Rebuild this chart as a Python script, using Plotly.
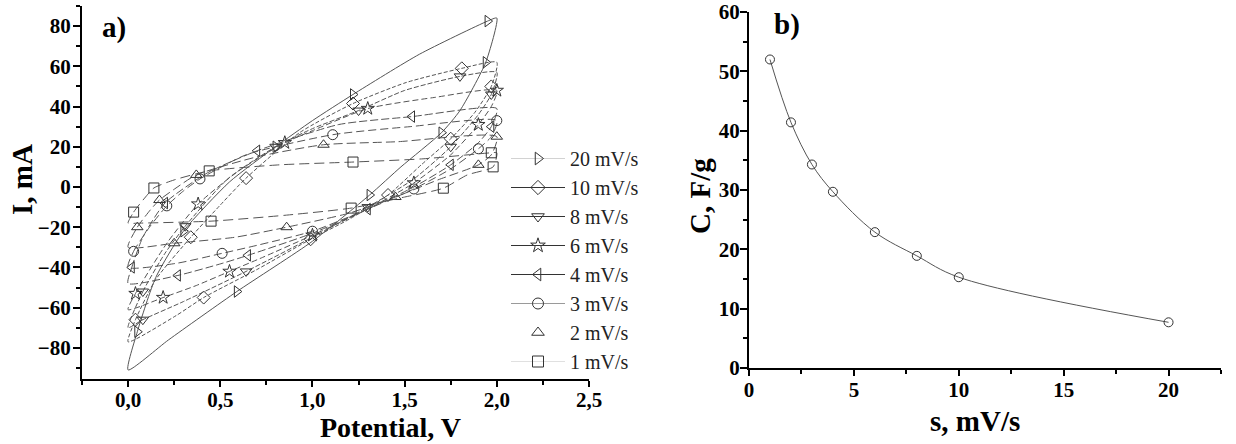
import plotly.graph_objects as go

# ---------------- data: panel a) cyclic voltammograms (V, mA) ----------------
labels = ["20 mV/s", "10 mV/s", "8 mV/s", "6 mV/s", "4 mV/s", "3 mV/s", "2 mV/s", "1 mV/s"]

V20 = [0.00, 0.05, 0.15, 0.30, 0.55, 0.80, 1.00, 1.22, 1.58, 1.95, 2.00, 1.94, 1.80, 1.70, 1.48, 1.31, 1.00, 0.59, 0.22, 0.00]
I20 = [-91, -72, -45, -22, 2.5, 20, 33, 46, 66, 82.5, 84, 62, 38, 27, 10, -4, -27, -52, -76, -91]

V10 = [0.00, 0.04, 0.15, 0.34, 0.50, 0.64, 0.93, 1.22, 1.51, 1.81, 2.00, 1.97, 1.88, 1.75, 1.59, 1.41, 1.20, 0.99, 0.70, 0.41, 0.26, 0.00]
I10 = [-77, -66, -46, -25, -9, 4.4, 27, 41.5, 52, 59, 62, 50, 37, 24, 11, -4, -16, -26, -41, -55, -64, -77]

V8 = [0.00, 0.08, 0.20, 0.31, 0.54, 0.80, 1.00, 1.25, 1.50, 1.80, 2.00, 1.97, 1.90, 1.75, 1.55, 1.30, 1.00, 0.64, 0.30, 0.08, 0.00]
I8 = [-70, -52, -33, -19.5, 4, 20, 29, 38, 48, 55, 57, 46, 36, 20, 4, -10, -25, -42, -57, -66, -70]

V6 = [0.00, 0.04, 0.21, 0.38, 0.60, 0.85, 1.00, 1.30, 1.66, 2.00, 1.97, 1.90, 1.75, 1.55, 1.30, 1.00, 0.73, 0.55, 0.37, 0.19, 0.00]
I6 = [-61, -53, -28, -8.5, 8, 22, 28, 39, 44.5, 48, 40, 31, 16, 2, -11, -24, -35, -42, -49, -55, -61]

V4 = [0.00, 0.02, 0.08, 0.20, 0.43, 0.70, 1.14, 1.54, 2.00, 1.97, 1.90, 1.75, 1.55, 1.30, 1.00, 0.65, 0.51, 0.27, 0.00]
I4 = [-48, -40, -25, -8, 7, 18, 31, 35, 39, 30, 22, 11, 0, -11, -23, -34, -38, -44, -48]

V3 = [0.00, 0.03, 0.12, 0.21, 0.30, 0.39, 0.64, 1.11, 1.53, 2.00, 1.97, 1.90, 1.75, 1.55, 1.30, 1.00, 0.70, 0.51, 0.26, 0.00]
I3 = [-40, -32, -19.5, -9.4, -2, 4, 16, 26, 30, 33, 25, 19, 9, -1, -11, -22, -29, -33, -38, -40]

V2 = [0.00, 0.05, 0.12, 0.17, 0.26, 0.37, 0.70, 1.06, 1.46, 2.00, 1.97, 1.90, 1.68, 1.45, 1.20, 0.86, 0.58, 0.25, 0.00]
I2 = [-30, -20, -11.5, -6.5, -0.5, 6, 15, 21, 22.5, 25, 16, 11, 3.5, -5, -13, -20, -25, -28, -30]

V1 = [0.00, 0.03, 0.09, 0.14, 0.25, 0.44, 0.82, 1.22, 1.60, 1.97, 2.00, 1.98, 1.84, 1.71, 1.50, 1.21, 0.86, 0.45, 0.05, 0.00]
I1 = [-18, -12.5, -5.5, -0.5, 3.5, 8, 11, 12.4, 14, 17, 17, 10, 6, -0.6, -5, -10.5, -14, -17, -18, -18]

# ---------------- data: panel b) specific capacitance ----------------
scan_rate = [1, 2, 3, 4, 6, 8, 10, 20]
capacitance = [52.0, 41.4, 34.3, 29.7, 22.9, 18.9, 15.3, 7.7]

# ---------------- figure ----------------
FONT = "Liberation Serif"
W, H = 1236, 444

curves = [(V20, I20), (V10, I10), (V8, I8), (V6, I6), (V4, I4), (V3, I3), (V2, I2), (V1, I1)]
symbols = ["triangle-right-open", "diamond-open", "triangle-down-open", "star-open",
           "triangle-left-open", "circle-open", "triangle-up-open", "square-open"]
dashes = ["solid", "4px,2px", "5px,2px", "6px,3px", "8px,3px", "8px,4px", "9px,4px", "10px,5px"]
legend_line = ["#d2d2d2", "#333333", "#333333", "#333333", "#333333", "#9a9a9a", None, "#e0e0e0"]

fig = go.Figure()
for (V, I), name, sym, dash, lcol in zip(curves, labels, symbols, dashes, legend_line):
    fig.add_trace(go.Scatter(
        x=V, y=I, mode="lines", showlegend=False, hoverinfo="skip",
        line=dict(color="#555555", width=1, dash=dash, shape="spline", smoothing=0.6),
        xaxis="x", yaxis="y"))
    idx = list(range(1, len(V) - 1, 2))
    fig.add_trace(go.Scatter(
        x=[V[i] for i in idx], y=[I[i] for i in idx], mode="markers", showlegend=False,
        marker=dict(symbol=sym, size=10, color="#333333", line=dict(width=1)),
        xaxis="x", yaxis="y"))
    fig.add_trace(go.Scatter(
        x=[None], y=[None], name=name,
        mode="markers" if lcol is None else "lines+markers",
        line=dict(color=lcol if lcol else "#ffffff", width=1),
        marker=dict(symbol=sym, size=11, color="#333333", line=dict(width=1)),
        xaxis="x", yaxis="y"))

fig.add_trace(go.Scatter(
    x=scan_rate, y=capacitance, mode="lines+markers", showlegend=False,
    line=dict(color="#555555", width=1, shape="spline", smoothing=1.0),
    marker=dict(symbol="circle-open", size=9, color="#333333", line=dict(width=1)),
    xaxis="x2", yaxis="y2"))

tickfont = dict(family=FONT, size=21, color="black", weight=700)
common = dict(showline=True, linecolor="black", linewidth=2, ticks="outside",
              tickwidth=1.5, tickcolor="black", showgrid=False, zeroline=False,
              tickfont=tickfont, automargin=False)

def px(x):
    return x / W

def py(y):
    return (H - y) / H

fig.update_layout(
    width=W, height=H, autosize=False, margin=dict(l=0, r=0, t=0, b=0, pad=0, autoexpand=False),
    paper_bgcolor="white", plot_bgcolor="white", separators=", ",
    font=dict(family=FONT, color="black"),
    xaxis=dict(domain=[px(82), px(589)], range=[-0.25, 2.5], anchor="y", tick0=0, dtick=0.5,
               tickformat=".1f", ticklen=6, ticklabelstandoff=-5,
               minor=dict(ticks="outside", ticklen=4, dtick=0.25, tickwidth=1.5, tickcolor="black"),
               **common),
    yaxis=dict(domain=[py(379), py(6)], range=[-95.5, 90], anchor="x", tick0=0, dtick=20, ticklen=7,
               ticklabelstandoff=-2,
               minor=dict(ticks="outside", ticklen=4, dtick=10, tickwidth=1.5, tickcolor="black"),
               **common),
    xaxis2=dict(domain=[px(749), px(1221)], range=[0, 22.5], anchor="y2", tick0=0, dtick=5, ticklen=6,
                ticklabelstandoff=-4,
                minor=dict(ticks="outside", ticklen=4, dtick=2.5, tickwidth=1.5, tickcolor="black"),
                **common),
    yaxis2=dict(domain=[py(368), py(12)], range=[0, 60], anchor="x2", tick0=0, dtick=10, ticklen=7,
                ticklabelstandoff=-4,
                minor=dict(ticks="outside", ticklen=4, dtick=5, tickwidth=1.5, tickcolor="black"),
                **common),
    legend=dict(x=px(506), y=py(139), xanchor="left", yanchor="top",
                bgcolor="rgba(0,0,0,0)", borderwidth=0, itemwidth=54,
                font=dict(family=FONT, size=20, color="#222222"), tracegroupgap=0),
    showlegend=True,
)

title_font = dict(family=FONT, size=29, color="black", weight=700)
annos = [
    ("a)", 114, 27, 0, 29), ("b)", 787, 25, 0, 29),
    ("I, mA", 22, 180, -90, 29), ("C, F/g", 700, 196, -90, 29),
    ("Potential, V", 390, 427, 0, 28), ("s, mV/s", 975, 421, 0, 29),
]
for text, x, y, ang, fs in annos:
    fig.add_annotation(text=text, x=px(x), y=py(y), xref="paper", yref="paper",
                       xanchor="center", yanchor="middle", showarrow=False,
                       textangle=ang, font=dict(title_font, size=fs))

fig.write_html("out.html")
